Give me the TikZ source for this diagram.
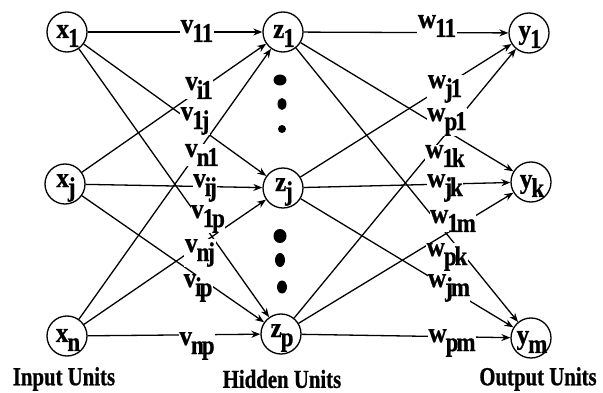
\documentclass[tikz,border=0pt]{standalone}
\usepackage{fontspec}
\newfontfamily\nnfont{Liberation Serif}[FakeStretch=0.9,FakeBold=0.8]
\newfontfamily\subfont{Liberation Serif}[FakeStretch=0.85,FakeBold=0.8]
\newfontfamily\capfont{Liberation Serif}[FakeStretch=0.8,FakeBold=0.8]
\usetikzlibrary{arrows.meta}
\newcommand\sk{\kern-2pt}
\newcommand\lbl[2]{#1\raisebox{-9pt}{\kern-1pt\subfont\bfseries\fontsize{27}{27}\selectfont #2}}
\tikzset{
  unit/.style={draw, circle, line width=1.3pt, minimum size=40pt, inner sep=0pt},
  txt/.style={inner sep=0pt, font=\nnfont\bfseries\fontsize{28}{28}\selectfont},
  wlab/.style={txt, fill=white, inner sep=0.5pt},
  conn/.style={line width=1.3pt, -{Stealth[length=9pt,width=7pt]}},
  captext/.style={inner sep=0pt, font=\capfont\bfseries\fontsize{26}{26}\selectfont},
}
\begin{document}
\begin{tikzpicture}[x=1pt,y=-1pt]
\useasboundingbox (0,0) rectangle (603,393);
% units
\node[unit] (x1) at (67,32) {};
\node[unit] (xj) at (65,184) {};
\node[unit] (xn) at (67,336) {};
\node[unit] (z1) at (283,32) {};
\node[unit] (zj) at (283,188) {};
\node[unit] (zp) at (281,334) {};
\node[unit] (y1) at (529,33) {};
\node[unit] (yk) at (531,182) {};
\node[unit] (ym) at (531,338) {};
% unit texts
\node[txt] (tx1) at ([shift={(1,4)}]x1.center) {\lbl{x}{1}};
\node[txt] (txj) at ([shift={(1,4)}]xj.center) {\lbl{x}{j}};
\node[txt] (txn) at ([shift={(1,4)}]xn.center) {\lbl{x}{n}};
\node[txt] (tz1) at ([shift={(1,4)}]z1.center) {\lbl{z}{1}};
\node[txt] (tzj) at ([shift={(1,4)}]zj.center) {\lbl{z}{j}};
\node[txt] (tzp) at ([shift={(1,4)}]zp.center) {\lbl{z}{p}};
\node[txt] (ty1) at ([shift={(1,4)}]y1.center) {\lbl{y}{1}};
\node[txt] (tyk) at ([shift={(1,4)}]yk.center) {\lbl{y}{k}};
\node[txt] (tym) at ([shift={(1,4)}]ym.center) {\lbl{y}{m}};
% connections
\foreach \a in {x1,xj,xn}{
  \foreach \b in {z1,zj,zp}{
    \draw[conn] (\a) -- (\b);
  }
}
\foreach \a in {z1,zj,zp}{
  \foreach \b in {y1,yk,ym}{
    \draw[conn] (\a) -- (\b);
  }
}
% weight labels
\node[wlab] (v11) at (197,31) {\lbl{v}{1\sk 1}};
\node[wlab] (vi1) at (199,88) {\lbl{v}{i\sk 1}};
\node[wlab] (v1j) at (195,121) {\lbl{v}{1\sk j}};
\node[wlab] (vn1) at (202,155) {\lbl{v}{n\sk 1}};
\node[wlab] (vij) at (205,188) {\lbl{v}{i\sk j}};
\node[wlab] (v1p) at (208,219) {\lbl{v}{1\sk p}};
\node[wlab] (vnj) at (200,253) {\lbl{v}{n\sk j}};
\node[wlab] (vip) at (198,288) {\lbl{v}{i\sk p}};
\node[wlab] (vnp) at (197,346) {\lbl{v}{n\sk p}};
\node[wlab] (w11) at (437,26) {\lbl{w}{1\sk 1}};
\node[wlab] (wj1) at (445,89) {\lbl{w}{j\sk 1}};
\node[wlab] (wp1) at (447,122) {\lbl{w}{p\sk 1}};
\node[wlab] (w1k) at (445,156) {\lbl{w}{1\sk k}};
\node[wlab] (wjk) at (445,188) {\lbl{w}{j\sk k}};
\node[wlab] (w1m) at (453,221) {\lbl{w}{1\sk m}};
\node[wlab] (wpk) at (447,257) {\lbl{w}{p\sk k}};
\node[wlab] (wjm) at (449,288) {\lbl{w}{j\sk m}};
\node[wlab] (wpm) at (452,343) {\lbl{w}{p\sk m}};
% dots
\fill (280,80) ellipse [x radius=6.5, y radius=5.5];
\fill (282,104) ellipse [x radius=4.5, y radius=6];
\fill (282,129) ellipse [x radius=4, y radius=4];
\fill (280,236) ellipse [x radius=6.5, y radius=7];
\fill (280,260) ellipse [x radius=5, y radius=7];
\fill (282,287) ellipse [x radius=5, y radius=6.5];
% captions
\node[captext] (cin) at (64,379) {Input Units};
\node[captext] (chid) at (282,379) {Hidden Units};
\node[captext] (cout) at (538,379) {Output Units};
\end{tikzpicture}
\end{document}
